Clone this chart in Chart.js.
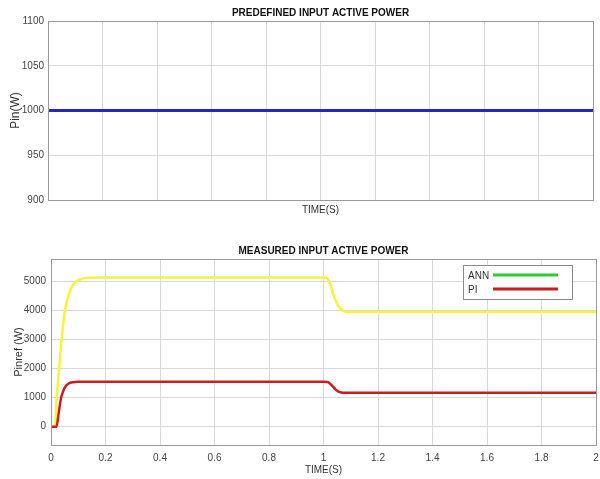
<!DOCTYPE html>
<html>
<head>
<meta charset="utf-8">
<script src="https://cdn.jsdelivr.net/npm/chart.js@4.4.1/dist/chart.umd.min.js"></script>
<style>
  body { margin: 0; background: #fff; }
  #wrap { position: relative; width: 600px; height: 479px; }
  canvas { position: absolute; left: 0; }
  #top { top: 0; }
  #bottom { top: 230px; }
</style>
</head>
<body>
<div id="wrap">
  <canvas id="top" width="600" height="225"></canvas>
  <canvas id="bottom" width="600" height="249"></canvas>
</div>
<script>
// datos
const topTime = [0, 1, 2];
const topPower = [1000, 1000, 1000];
const topYTicks = [900, 950, 1000, 1050, 1100];

const timeTicks = [0, 0.2, 0.4, 0.6, 0.8, 1, 1.2, 1.4, 1.6, 1.8, 2];
const bottomYTicks = [0, 1000, 2000, 3000, 4000, 5000];

const annTime  = [0, 0.015, 0.021, 0.03, 0.039, 0.051, 0.065, 0.08, 0.094, 0.11, 0.136, 0.2, 1.0, 1.012, 1.025, 1.04, 1.055, 1.07, 1.085, 1.1, 1.2, 2.0];
const annPower = [0, 0, 1000, 2000, 3000, 4000, 4550, 4880, 5020, 5090, 5130, 5140, 5140, 5120, 4900, 4450, 4150, 4010, 3960, 3950, 3950, 3950];

const piTime  = [0, 0.02, 0.028, 0.036, 0.045, 0.055, 0.065, 0.08, 0.1, 1.0, 1.015, 1.03, 1.045, 1.055, 1.065, 1.08, 2.0];
const piPower = [0, 0, 450, 950, 1230, 1410, 1490, 1535, 1550, 1550, 1540, 1430, 1280, 1210, 1180, 1170, 1170];

const legendLabels = ['ANN', 'PI'];
const legendColors = ['#2fcc2f', '#c81e1e'];

const FONT = 'Arial, "Liberation Sans", sans-serif';

function puntos(xs, ys){
    return xs.map(function(x, i){ return {x: x, y: ys[i]}; });
}

function fijarTicks(valores){
    return function(scale){
        scale.ticks = valores.map(function(v){ return {value: v}; });
    };
}

function sinComas(v){
    return String(Math.round(v * 10) / 10);
}

// marco tipo matlab alrededor del area
const marco = {
    id: 'marco',
    afterDraw(chart){
        const a = chart.chartArea, ctx = chart.ctx;
        ctx.save();
        ctx.strokeStyle = '#9a9a9a';
        ctx.lineWidth = 1;
        ctx.strokeRect(Math.round(a.left) + 0.5, Math.round(a.top) + 0.5,
                       Math.round(a.right - a.left), Math.round(a.bottom - a.top));
        ctx.restore();
    }
};

const leyenda = {
    id: 'leyenda',
    afterDraw(chart, args, opts){
        if (!opts.show) return;
        const a = chart.chartArea, ctx = chart.ctx;
        const w = 109, h = 34;
        const x = a.right - 24 - w, y = a.top + 6;
        ctx.save();
        ctx.fillStyle = '#fff';
        ctx.fillRect(x, y, w, h);
        ctx.strokeStyle = '#8a8a8a';
        ctx.lineWidth = 1;
        ctx.strokeRect(x + 0.5, y + 0.5, w, h);
        ctx.font = '10px ' + FONT;
        ctx.textBaseline = 'middle';
        legendLabels.forEach(function(lbl, i){
            const cy = y + 10 + i * 14;
            ctx.fillStyle = '#333';
            ctx.fillText(lbl, x + 5, cy + 1);
            ctx.strokeStyle = legendColors[i];
            ctx.lineWidth = 3;
            ctx.beginPath();
            ctx.moveTo(x + 30, cy);
            ctx.lineTo(x + 95, cy);
            ctx.stroke();
        });
        ctx.restore();
    }
};

Chart.defaults.font.family = FONT;
Chart.defaults.color = '#444';

new Chart(document.getElementById('top'), {
    type: 'line',
    data: {
        datasets: [{
            label: 'Pin',
            data: puntos(topTime, topPower),
            borderColor: '#2626c4',
            borderWidth: 3,
            pointRadius: 0
        }]
    },
    options: {
        responsive: false,
        animation: false,
        devicePixelRatio: 1,
        layout: { padding: { left: 0, right: 7, top: 0, bottom: 0 } },
        plugins: {
            legend: { display: false },
            tooltip: { enabled: false },
            title: {
                display: true,
                fullSize: false,
                text: 'PREDEFINED INPUT ACTIVE POWER',
                color: '#111',
                font: { size: 10, weight: 'bold' },
                padding: { top: 7, bottom: 2 }
            },
            leyenda: { show: false }
        },
        scales: {
            x: {
                type: 'linear', min: 0, max: 2,
                afterBuildTicks: fijarTicks(timeTicks),
                afterFit: function(s){ s.height = 25; s.paddingLeft = 0; s.paddingRight = 0; },
                ticks: { display: false },
                grid: { color: '#d8d8d8', drawTicks: false },
                border: { display: false },
                title: { display: true, text: 'TIME(S)', color: '#333', font: { size: 10 }, padding: { top: 0, bottom: 9 } }
            },
            y: {
                min: 900, max: 1100,
                afterBuildTicks: fijarTicks(topYTicks),
                afterFit: function(s){ s.width = 48; s.paddingTop = 0; s.paddingBottom = 0; },
                ticks: { padding: 4, font: { size: 10 }, callback: sinComas },
                grid: { color: '#d8d8d8', drawTicks: false },
                border: { display: false },
                title: { display: true, text: 'Pin(W)', color: '#333', font: { size: 12 }, padding: { top: 8, bottom: 0 } }
            }
        }
    },
    plugins: [marco, leyenda]
});

new Chart(document.getElementById('bottom'), {
    type: 'line',
    data: {
        datasets: [
            {
                label: 'ANN',
                data: puntos(annTime, annPower),
                borderColor: '#f4f43c',
                borderWidth: 2.5,
                pointRadius: 0,
                order: 1,
                cubicInterpolationMode: 'monotone'
            },
            {
                label: 'PI',
                data: puntos(piTime, piPower),
                borderColor: '#c81e1e',
                borderWidth: 2.5,
                pointRadius: 0,
                order: 0,
                cubicInterpolationMode: 'monotone'
            }
        ]
    },
    options: {
        responsive: false,
        animation: false,
        devicePixelRatio: 1,
        layout: { padding: { left: 0, right: 4, top: 0, bottom: 0 } },
        plugins: {
            legend: { display: false },
            tooltip: { enabled: false },
            title: {
                display: true,
                fullSize: false,
                text: 'MEASURED INPUT ACTIVE POWER',
                color: '#111',
                font: { size: 10, weight: 'bold' },
                padding: { top: 15, bottom: 2 }
            },
            leyenda: { show: true }
        },
        scales: {
            x: {
                type: 'linear', min: 0, max: 2,
                afterBuildTicks: fijarTicks(timeTicks),
                afterFit: function(s){ s.height = 34; s.paddingLeft = 0; s.paddingRight = 0; },
                ticks: { padding: 7, font: { size: 10 }, maxRotation: 0, callback: sinComas },
                grid: { color: '#d8d8d8', drawTicks: false },
                border: { display: false },
                title: { display: true, text: 'TIME(S)', color: '#333', font: { size: 10 }, padding: { top: 0, bottom: 3 } }
            },
            y: {
                min: -630, max: 5780,
                afterBuildTicks: fijarTicks(bottomYTicks),
                afterFit: function(s){ s.width = 51; s.paddingTop = 0; s.paddingBottom = 0; },
                ticks: { padding: 5, font: { size: 10 }, callback: sinComas },
                grid: { color: '#d8d8d8', drawTicks: false },
                border: { display: false },
                title: { display: true, text: 'Pinref (W)', color: '#333', font: { size: 11 }, padding: { top: 12, bottom: 0 } }
            }
        }
    },
    plugins: [marco, leyenda]
});
</script>
</body>
</html>
